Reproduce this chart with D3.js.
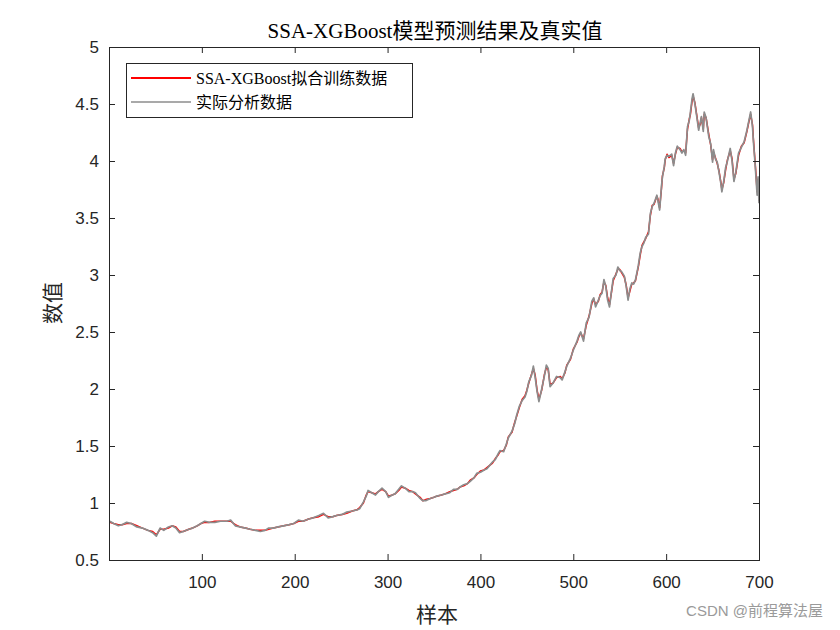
<!DOCTYPE html>
<html><head><meta charset="utf-8">
<script src="https://cdn.jsdelivr.net/npm/d3@7"></script>
<style>body{margin:0;background:#fff}svg{display:block}</style>
</head><body>
<script>
const samples = [1,5,10,14,19,24,30,36,42,47,51,55,59,64,68,72,76,80,86,90,95,99,103,108,114,120,127,131,136,141,147,152,158,163,168,172,177,182,188,194,199,204,209,215,220,226,231,236,241,245,251,256,262,267,270,274,277,279,283,287,290,294,298,301,305,308,312,315,319,323,327,330,335,338,341,346,350,353,358,362,367,371,375,378,382,386,389,393,396,400,404,407,410,413,416,419,421,425,428,430,434,437,439,442,445,448,450,452,455,457,459,461,463,466,469,471,473,475,478,482,486,488,491,493,497,500,504,506,508,511,514,517,520,522,524,527,529,531,533,535,537,539,541,543,546,548,550,552,555,557,559,561,563,565,567,570,572,574,576,578,581,583,585,587,590,591,593,595,596,598,599,601,603,606,608,610,612,615,617,619,621,623,625,626,628,629,631,633,635,637,638,640,641,643,646,648,650,651,653,655,657,659,660,662,664,666,669,671,673,675,678,681,684,687,689,691,693,694,696,698,699,700];
const actual = [0.84,0.82,0.80,0.81,0.83,0.82,0.79,0.78,0.76,0.74,0.71,0.78,0.76,0.79,0.80,0.78,0.74,0.75,0.77,0.78,0.80,0.82,0.84,0.83,0.83,0.84,0.84,0.85,0.80,0.79,0.78,0.77,0.76,0.75,0.76,0.78,0.78,0.79,0.80,0.81,0.82,0.85,0.84,0.86,0.87,0.89,0.91,0.87,0.88,0.89,0.90,0.92,0.93,0.94,0.95,1.01,1.06,1.11,1.09,1.07,1.10,1.13,1.10,1.05,1.07,1.08,1.12,1.15,1.13,1.10,1.10,1.09,1.04,1.02,1.02,1.04,1.05,1.06,1.07,1.08,1.09,1.12,1.12,1.14,1.16,1.17,1.19,1.22,1.26,1.27,1.29,1.30,1.33,1.36,1.38,1.43,1.46,1.45,1.52,1.57,1.63,1.70,1.77,1.85,1.90,1.93,1.98,2.06,2.12,2.20,2.10,1.98,1.89,2.00,2.12,2.21,2.18,2.02,2.05,2.11,2.10,2.08,2.15,2.20,2.27,2.34,2.42,2.47,2.50,2.42,2.58,2.63,2.77,2.80,2.72,2.78,2.82,2.84,2.96,2.90,2.78,2.72,2.85,2.97,3.00,3.07,3.04,3.03,2.99,2.90,2.78,2.88,2.93,2.92,2.96,3.08,3.19,3.25,3.28,3.33,3.36,3.54,3.60,3.63,3.70,3.66,3.57,3.78,3.86,3.95,4.02,4.05,4.04,4.06,3.96,4.07,4.13,4.10,4.07,4.10,4.05,4.30,4.36,4.42,4.55,4.59,4.50,4.39,4.27,4.35,4.39,4.26,4.43,4.38,4.21,4.15,3.99,4.10,4.02,3.99,3.90,3.80,3.73,3.82,3.94,4.00,4.11,4.00,3.82,3.90,4.07,4.12,4.17,4.27,4.35,4.43,4.30,4.17,3.95,3.70,3.86,3.63];
const predicted = [0.83,0.82,0.81,0.81,0.82,0.82,0.80,0.78,0.76,0.75,0.72,0.77,0.77,0.78,0.80,0.79,0.75,0.75,0.77,0.78,0.80,0.82,0.83,0.83,0.84,0.84,0.84,0.84,0.81,0.79,0.78,0.77,0.76,0.76,0.76,0.77,0.78,0.79,0.80,0.81,0.82,0.84,0.84,0.86,0.87,0.88,0.90,0.88,0.88,0.89,0.90,0.91,0.93,0.94,0.96,1.00,1.07,1.10,1.09,1.08,1.10,1.12,1.10,1.06,1.07,1.08,1.11,1.14,1.13,1.11,1.10,1.08,1.05,1.02,1.03,1.04,1.05,1.06,1.07,1.08,1.10,1.11,1.12,1.14,1.15,1.17,1.20,1.22,1.25,1.28,1.29,1.31,1.33,1.35,1.39,1.42,1.45,1.46,1.51,1.58,1.62,1.71,1.76,1.84,1.91,1.94,1.99,2.05,2.13,2.18,2.12,1.99,1.91,1.99,2.13,2.19,2.17,2.04,2.05,2.10,2.11,2.09,2.14,2.21,2.26,2.35,2.41,2.46,2.49,2.44,2.56,2.64,2.75,2.79,2.74,2.77,2.83,2.85,2.94,2.91,2.80,2.74,2.84,2.95,3.01,3.05,3.05,3.02,2.98,2.91,2.80,2.86,2.92,2.93,2.95,3.07,3.17,3.26,3.29,3.32,3.38,3.52,3.61,3.62,3.69,3.67,3.59,3.76,3.87,3.94,4.01,4.06,4.03,4.05,3.98,4.06,4.12,4.11,4.08,4.09,4.07,4.28,4.37,4.40,4.53,4.57,4.51,4.40,4.29,4.33,4.38,4.28,4.41,4.38,4.23,4.14,4.01,4.08,4.03,3.98,3.91,3.81,3.75,3.81,3.92,4.01,4.09,4.02,3.84,3.89,4.05,4.13,4.16,4.26,4.34,4.41,4.32,4.19,3.97,3.73,3.84,3.65];
const xTicks = [100,200,300,400,500,600,700];
const yTicks = [0.5,1,1.5,2,2.5,3,3.5,4,4.5,5];
const legendLabels = ["SSA-XGBoost拟合训练数据","实际分析数据"];
const titleText = "SSA-XGBoost模型预测结果及真实值";
const xLabel = "样本", yLabel = "数值";
const watermark = "CSDN @前程算法屋";

const W = 840, H = 630;
const m = {l:109, r:759, t:47, b:560};
const serif = "'Liberation Serif','Times New Roman','Noto Sans CJK SC',serif";
const sans = "'Liberation Sans',Arial,'Noto Sans CJK SC',sans-serif";
const axisCol = "#262626";

const svg = d3.select("body").append("svg").attr("width", W).attr("height", H);
const x = d3.scaleLinear().domain([0, 700]).range([m.l, m.r]);
const y = d3.scaleLinear().domain([0.5, 5]).range([m.b, m.t]);

svg.append("defs").append("clipPath").attr("id","clip")
  .append("rect").attr("x", m.l).attr("y", m.t).attr("width", m.r-m.l).attr("height", m.b-m.t);

const line = d3.line().x((d,i)=>x(samples[i])).y(d=>y(d));
const g = svg.append("g").attr("clip-path","url(#clip)");
g.append("path").datum(predicted).attr("d", line).attr("fill","none")
  .attr("stroke","#ff0000").attr("stroke-width",1.5).attr("stroke-linejoin","round");
g.append("path").datum(actual).attr("d", line).attr("fill","none")
  .attr("stroke","#8c8c8c").attr("stroke-width",1.7).attr("stroke-linejoin","round");

function styleAxis(sel){
  sel.selectAll(".tick line").attr("stroke", axisCol);
  sel.selectAll(".tick text").attr("fill", axisCol).style("font-family", sans).style("font-size","17px");
}
const ax = svg.append("g").attr("transform",`translate(0,${m.b})`)
  .call(d3.axisBottom(x).tickValues(xTicks).tickSizeInner(-6).tickSizeOuter(0).tickPadding(16));
styleAxis(ax);
const axTop = svg.append("g").attr("transform",`translate(0,${m.t})`)
  .call(d3.axisTop(x).tickValues(xTicks).tickSizeInner(-6).tickSizeOuter(0).tickFormat(""));
styleAxis(axTop);
const ay = svg.append("g").attr("transform",`translate(${m.l},0)`)
  .call(d3.axisLeft(y).tickValues(yTicks).tickSizeInner(-6).tickSizeOuter(0).tickPadding(10).tickFormat(d3.format("")));
styleAxis(ay);
const ayR = svg.append("g").attr("transform",`translate(${m.r},0)`)
  .call(d3.axisRight(y).tickValues(yTicks).tickSizeInner(-6).tickSizeOuter(0).tickFormat(""));
styleAxis(ayR);
svg.selectAll(".domain").remove();
svg.append("rect").attr("x", m.l+0.5).attr("y", m.t+0.5).attr("width", m.r-m.l).attr("height", m.b-m.t)
  .attr("fill","none").attr("stroke", axisCol).attr("stroke-width",1);

svg.append("text").attr("x", 435).attr("y", 38).attr("text-anchor","middle")
  .style("font-family", serif).style("font-size","21px").attr("fill","#000").text(titleText);
svg.append("text").attr("x", 437).attr("y", 622).attr("text-anchor","middle")
  .style("font-family", serif).style("font-size","21px").attr("fill", axisCol).text(xLabel);
svg.append("text").attr("transform","translate(60,303) rotate(-90)").attr("text-anchor","middle")
  .style("font-family", serif).style("font-size","21px").attr("fill", axisCol).text(yLabel);

const lg = svg.append("g");
lg.append("rect").attr("x",126.5).attr("y",63.5).attr("width",286).attr("height",54)
  .attr("fill","#fff").attr("stroke","#262626").attr("stroke-width",1);
const legCols = ["#ff0000","#8c8c8c"], legW = [2,1.4];
legendLabels.forEach((t,i)=>{
  const yy = 78 + i*24;
  lg.append("line").attr("x1",131).attr("x2",191).attr("y1",yy).attr("y2",yy)
    .attr("stroke",legCols[i]).attr("stroke-width",legW[i]);
  lg.append("text").attr("x",196).attr("y",yy+5.5).style("font-family",serif).style("font-size","16px")
    .attr("fill","#000").text(t);
});

svg.append("text").attr("x", 823).attr("y", 616).attr("text-anchor","end")
  .style("font-family", sans).style("font-size","15px").attr("fill","#9a9a9a").text(watermark);
</script>
</body></html>
